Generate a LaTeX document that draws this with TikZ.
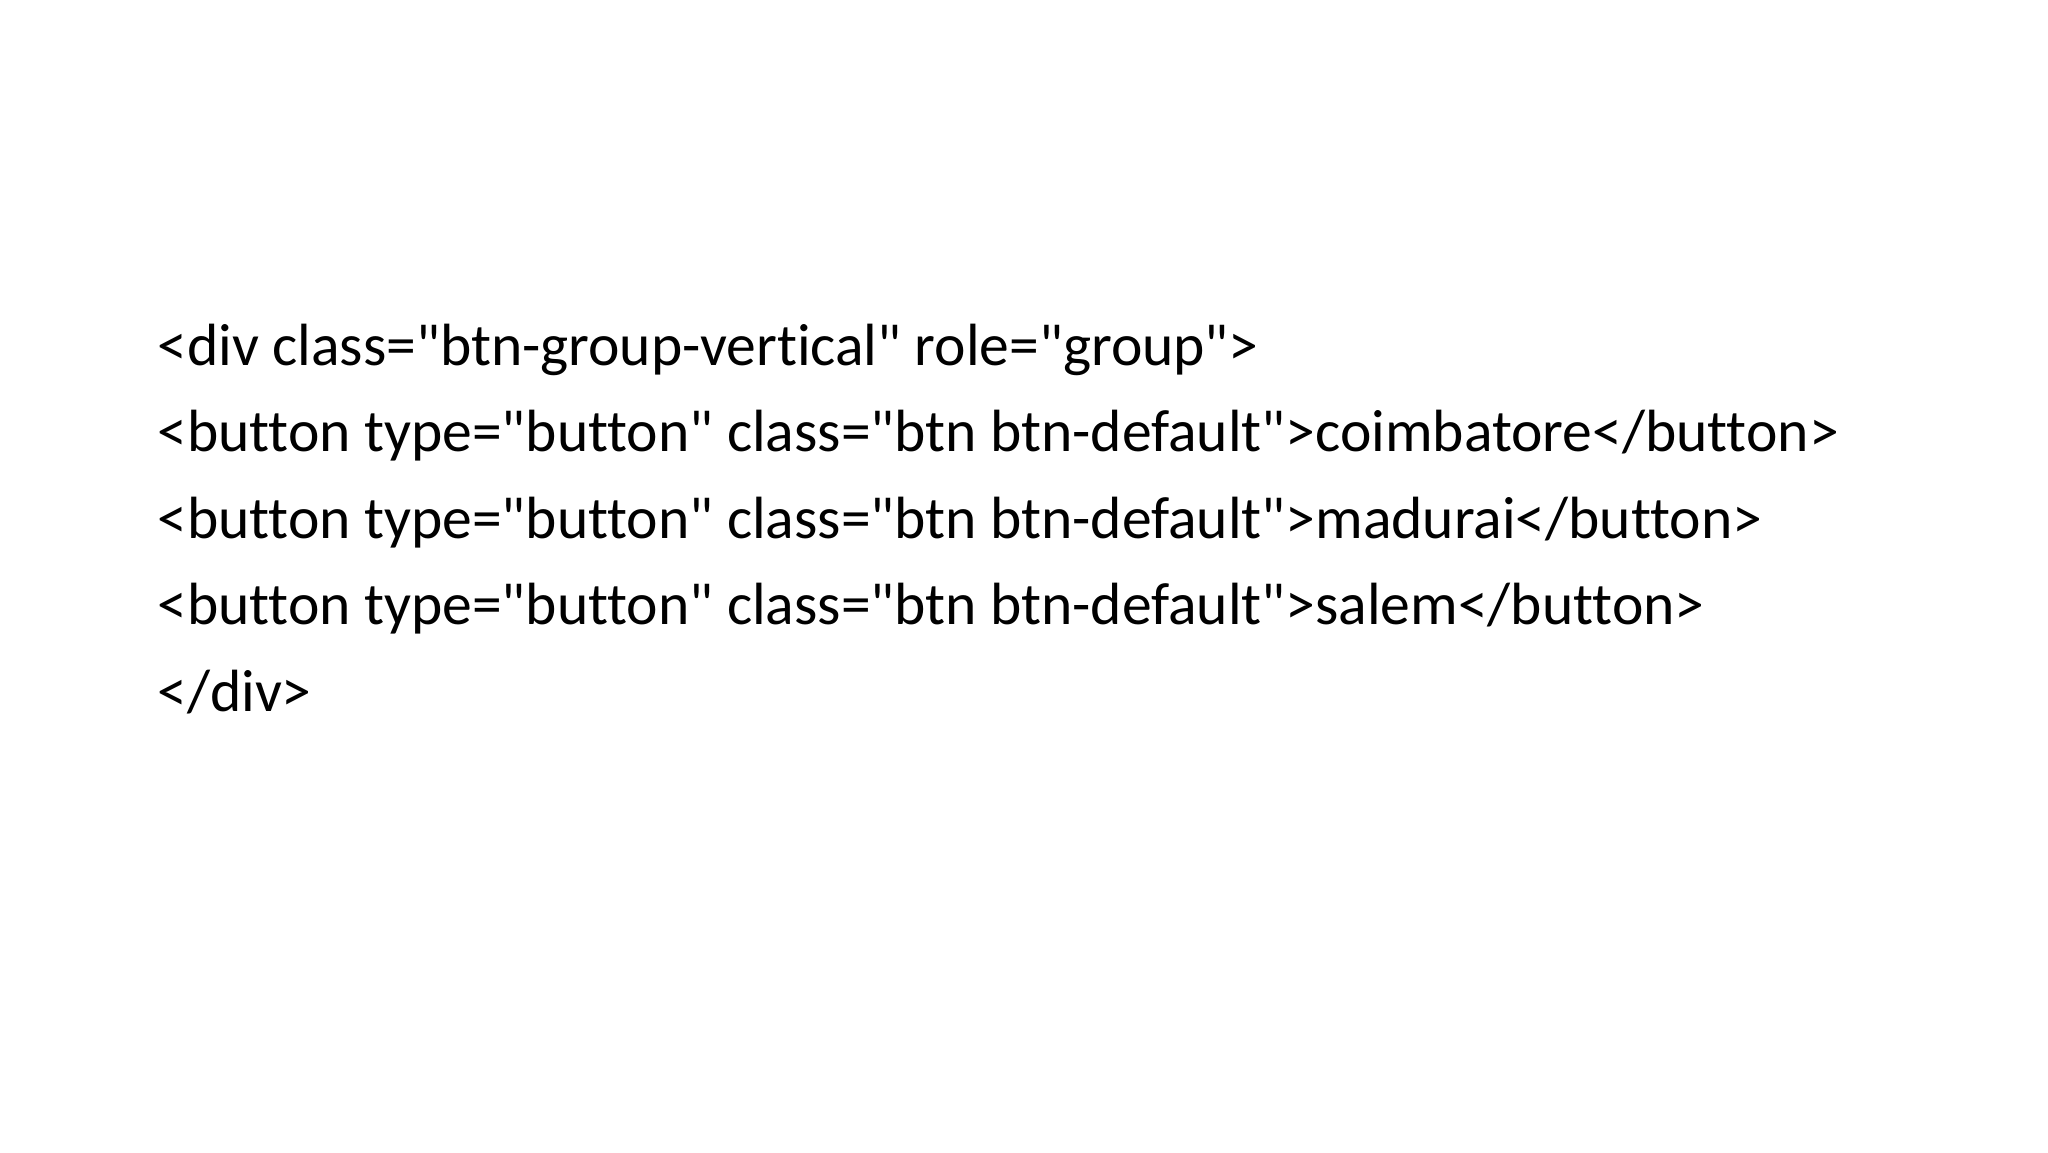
\documentclass[tikz,border=0pt]{standalone}
\usepackage{fontspec}
\setmainfont[Ligatures={NoCommon,NoRequired,NoContextual},Mapping=]{Carlito}
\newcommand{\qq}{\symbol{34}}
\begin{document}
\begin{tikzpicture}[x=1pt,y=-1pt,txt/.style={anchor=base west,inner sep=0pt,font=\fontsize{29.8}{34}\selectfont}]
\useasboundingbox (0,0) rectangle (1024,576);
\node[txt] (l1) at (78.5,182.5) {<div class=\qq btn-group-vertical\qq{} role=\qq group\qq>};
\node[txt] (l2) at (78.5,225.8) {<button type=\qq button\qq{} class=\qq btn btn-default\qq>coimbatore</button>};
\node[txt] (l3) at (78.5,269.1) {<button type=\qq button\qq{} class=\qq btn btn-default\qq>madurai</button>};
\node[txt] (l4) at (78.5,312.4) {<button type=\qq button\qq{} class=\qq btn btn-default\qq>salem</button>};
\node[txt] (l5) at (78.5,355.7) {</div>};
\end{tikzpicture}
\end{document}
